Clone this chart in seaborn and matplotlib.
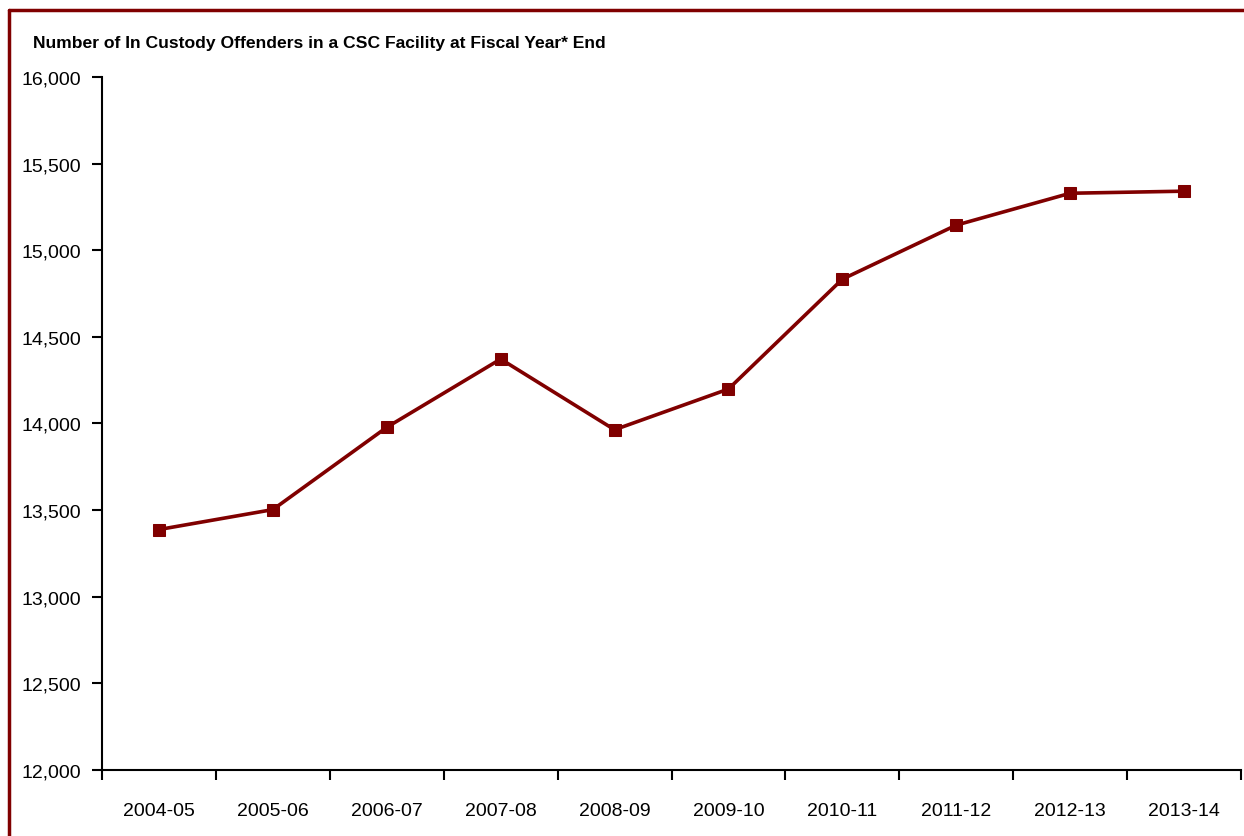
import matplotlib
matplotlib.use("Agg")
import matplotlib.pyplot as plt
import matplotlib.ticker as mticker
from matplotlib.lines import Line2D
import seaborn as sns
import pandas as pd

# data
years = ["2004-05", "2005-06", "2006-07", "2007-08", "2008-09",
         "2009-10", "2010-11", "2011-12", "2012-13", "2013-14"]
offenders = [13388, 13503, 13978, 14372, 13964,
             14199, 14833, 15145, 15329, 15341]
y_ticks = list(range(12000, 16001, 500))

title = "Number of In Custody Offenders in a CSC Facility at Fiscal Year* End"
maroon = "#800000"

sns.set_style("white")
plt.rcParams["font.family"] = ["Liberation Sans Narrow", "Liberation Sans", "DejaVu Sans"]
plt.rcParams["text.color"] = "black"
plt.rcParams["xtick.color"] = "black"
plt.rcParams["ytick.color"] = "black"

df = pd.DataFrame({"year": years, "offenders": offenders})

W, H = 1244, 837
fig = plt.figure(figsize=(W / 100, H / 100), dpi=100)
ax = fig.add_axes([102 / W, 1 - 771 / H, (1241 - 102) / W, (771 - 78) / H])

sns.lineplot(data=df, x="year", y="offenders", ax=ax, color=maroon,
             linewidth=2.6, marker="s", markersize=8.5,
             markeredgecolor=maroon, markerfacecolor=maroon)

ax.set_xlim(-0.5, len(years) - 0.5)
ax.set_ylim(12000, 16000)
ax.set_yticks(y_ticks)
ax.yaxis.set_major_formatter(mticker.FuncFormatter(lambda v, p: f"{int(v):,}"))

# Excel-style x axis: ticks between categories, labels centred
ax.set_xticks([i - 0.5 for i in range(len(years) + 1)])
ax.set_xticklabels([])
ax.set_xticks(range(len(years)), minor=True)
ax.set_xticklabels(years, minor=True)
ax.tick_params(axis="x", which="major", bottom=True, direction="out",
               length=7, width=1.5, color="black")
ax.tick_params(axis="x", which="minor", bottom=True, length=0, pad=23,
               labelsize=14, labelcolor="black")
ax.tick_params(axis="y", left=True, direction="out", length=7, width=1.5,
               color="black", labelsize=14, labelcolor="black", pad=8)

ax.set_xlabel("")
ax.set_ylabel("")
for side in ["top", "right"]:
    ax.spines[side].set_visible(False)
for side in ["left", "bottom"]:
    ax.spines[side].set_color("black")
    ax.spines[side].set_linewidth(1.5)

fig.text(33 / W, 1 - 48 / H, title, fontsize=12.6, fontweight="bold",
         color="black", ha="left", va="baseline")

# dark red frame at top and left
fig.add_artist(Line2D([9 / W, 1], [1 - 10.5 / H, 1 - 10.5 / H],
                      transform=fig.transFigure, color=maroon, linewidth=2.5))
fig.add_artist(Line2D([9 / W, 9 / W], [0, 1 - 10.5 / H],
                      transform=fig.transFigure, color=maroon, linewidth=2.5))

fig.savefig("out.png", dpi=100)
